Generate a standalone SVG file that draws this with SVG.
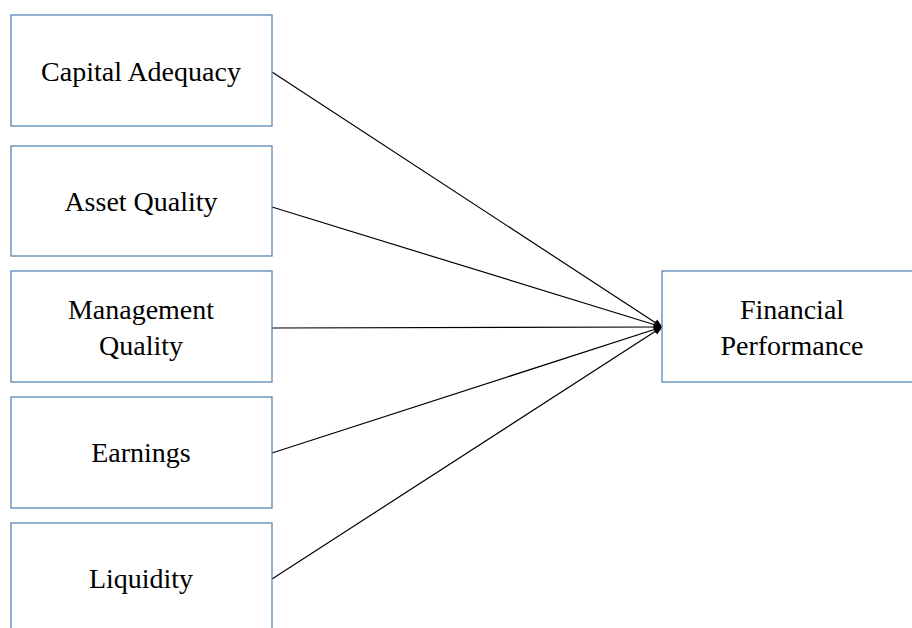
<svg xmlns="http://www.w3.org/2000/svg" width="912" height="628" viewBox="0 0 912 628">
<style>
.box{fill:#fff;stroke:#5b86b8;stroke-width:1.3}
.t{font-family:'Liberation Serif','Times New Roman','DejaVu Serif',serif;font-size:28px;fill:#000;text-anchor:middle}
.c{stroke:#000;stroke-width:1.2;fill:none}
</style>
<defs>
<marker id="ah" viewBox="0 0 10 10" refX="9" refY="5" markerWidth="10" markerHeight="9" markerUnits="userSpaceOnUse" orient="auto"><path d="M0,1 L10,5 L0,9 z" fill="#000"/></marker>
</defs>
<rect width="912" height="628" fill="#fff"/>
<g id="connectors">
<line class="c" x1="272" y1="72" x2="662" y2="327" marker-end="url(#ah)"/>
<line class="c" x1="272" y1="207" x2="662" y2="327" marker-end="url(#ah)"/>
<line class="c" x1="272" y1="328" x2="662" y2="327" marker-end="url(#ah)"/>
<line class="c" x1="272" y1="453" x2="662" y2="327" marker-end="url(#ah)"/>
<line class="c" x1="272" y1="579" x2="662" y2="327" marker-end="url(#ah)"/>
</g>
<g id="capital">
<rect class="box" x="11" y="15" width="261" height="111"/>
<text class="t" x="141" y="81">Capital Adequacy</text>
</g>
<g id="asset">
<rect class="box" x="11" y="146" width="261" height="110"/>
<text class="t" x="141" y="211">Asset Quality</text>
</g>
<g id="management">
<rect class="box" x="11" y="271" width="261" height="111"/>
<text class="t" x="141" y="319">Management</text>
<text class="t" x="141" y="355">Quality</text>
</g>
<g id="earnings">
<rect class="box" x="11" y="397" width="261" height="111"/>
<text class="t" x="141" y="462">Earnings</text>
</g>
<g id="liquidity">
<rect class="box" x="11" y="523" width="261" height="120"/>
<text class="t" x="141" y="588">Liquidity</text>
</g>
<g id="financial">
<rect class="box" x="662" y="271" width="260" height="111"/>
<text class="t" x="792" y="319">Financial</text>
<text class="t" x="792" y="355">Performance</text>
</g>
</svg>
